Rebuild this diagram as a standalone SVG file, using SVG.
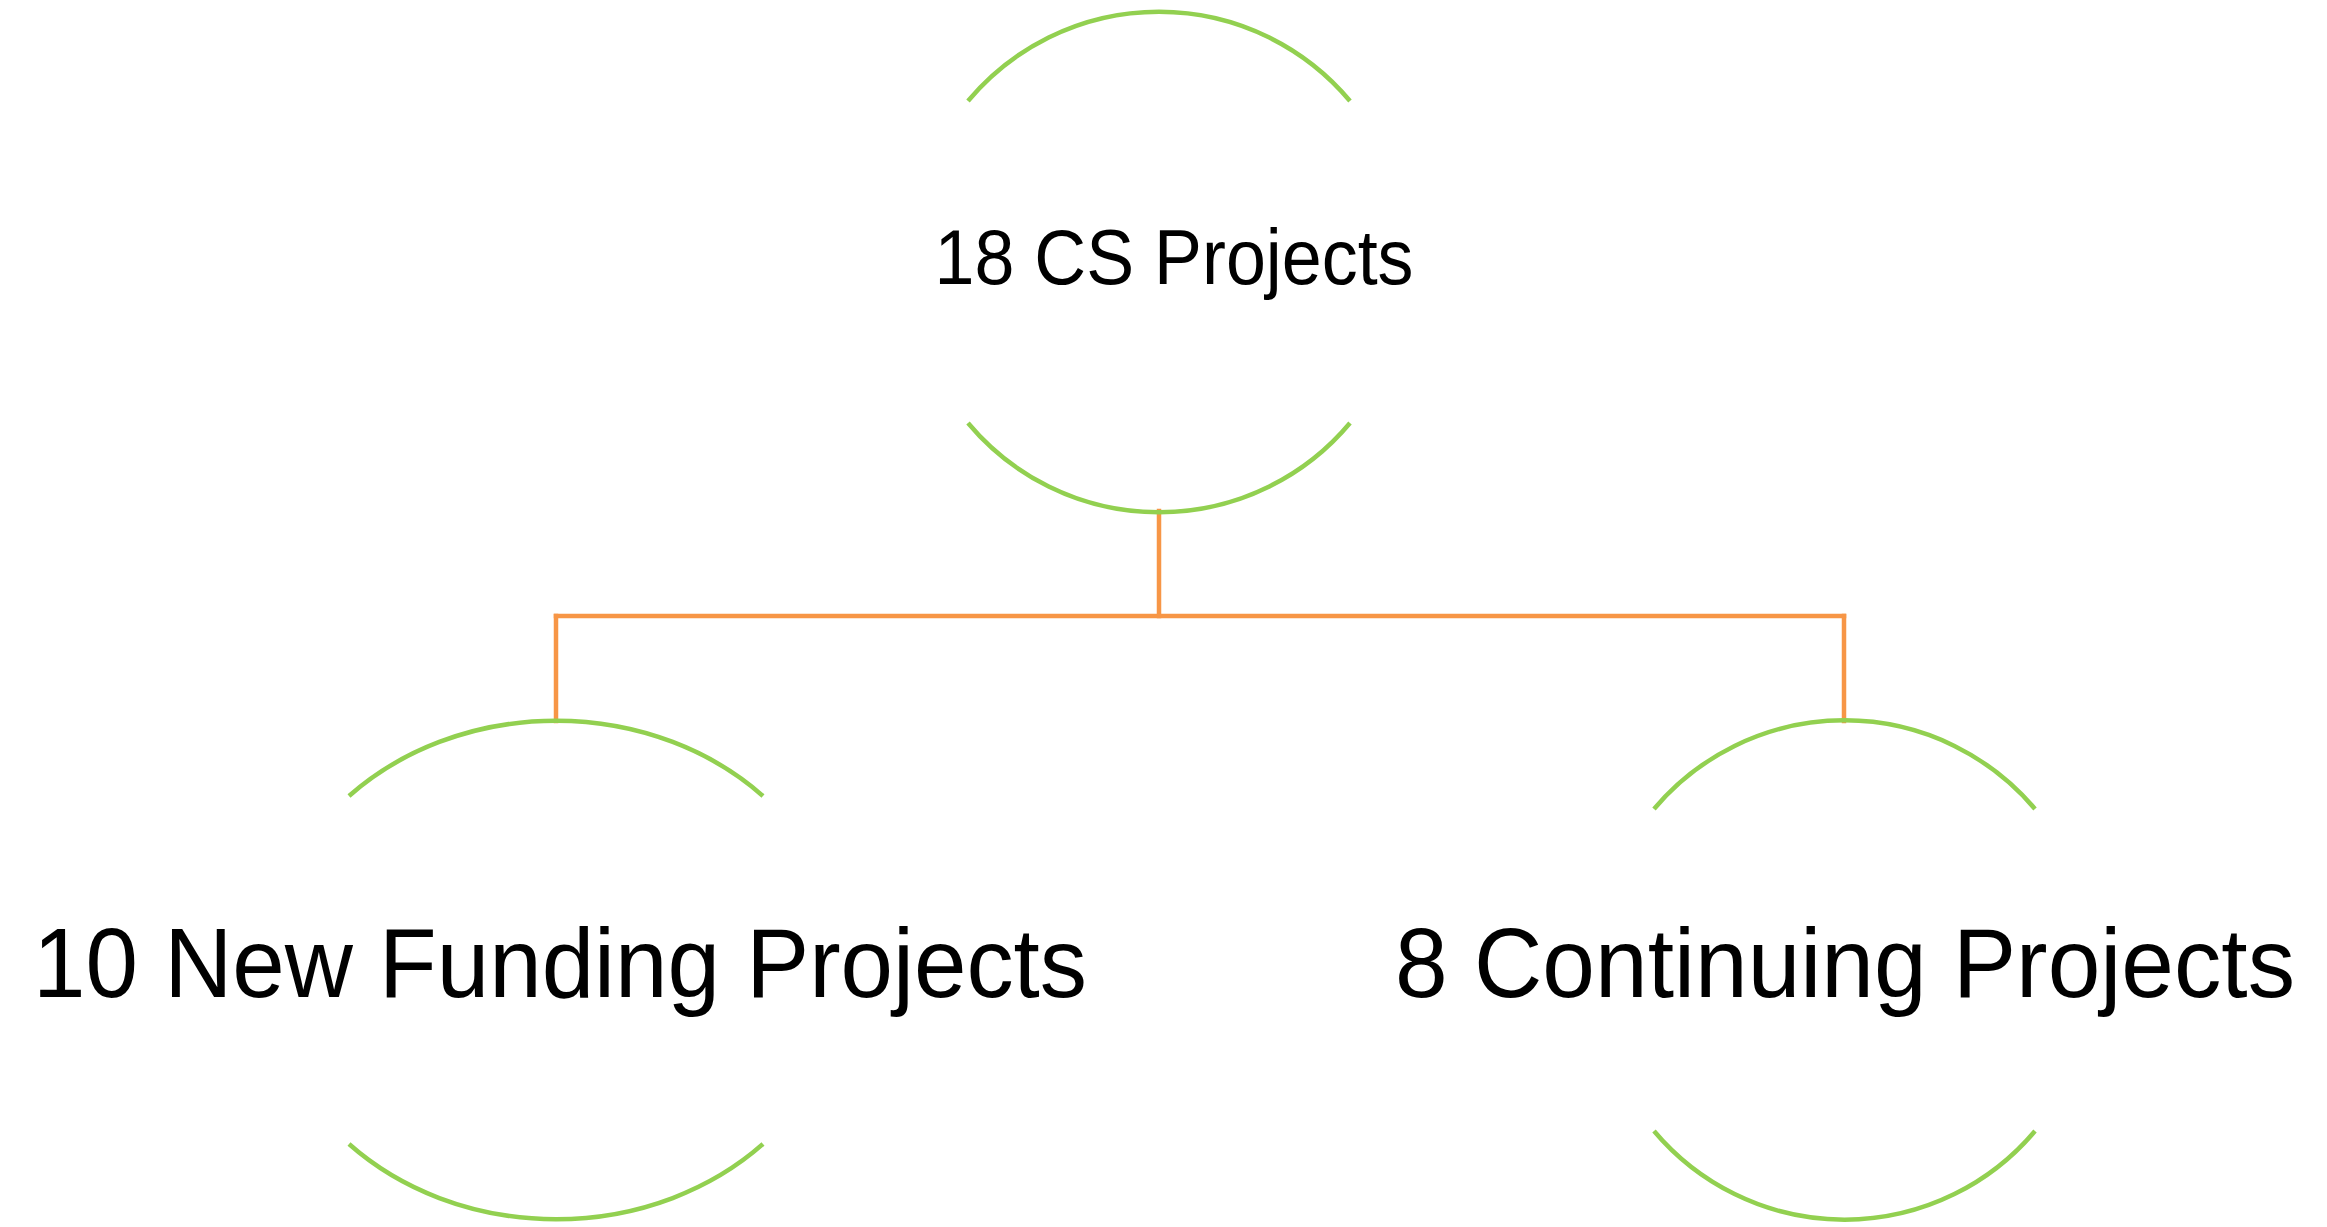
<svg xmlns="http://www.w3.org/2000/svg" width="2327" height="1227" viewBox="0 0 2327 1227">
  <style>
    .arc { fill: none; stroke: #92D050; stroke-width: 4.5; }
    .link { fill: none; stroke: #F79646; stroke-width: 4.5; stroke-linecap: square; }
    .label { font-family: "Liberation Sans", Arial, sans-serif; fill: #000000; text-anchor: middle; }
  </style>
  <rect width="2327" height="1227" fill="#FFFFFF"/>

  <!-- connectors: root down to the bar, bar across, bar down to children -->
  <g id="connectors">
    <path class="link" d="M1159,511 V616"/>
    <path class="link" d="M556,616 H1844"/>
    <path class="link" d="M556,616 V721"/>
    <path class="link" d="M1844,616 V721"/>
  </g>

  <!-- root: circle r=249 at (1159,262), drawn as top and bottom arcs -->
  <g id="node-root">
    <path class="arc" d="M968,101 A249,249 0 0 1 1350,101"/>
    <path class="arc" d="M968,423 A249,249 0 0 0 1350,423"/>
    <text class="label" x="1174" y="284" font-size="77" textLength="479" lengthAdjust="spacingAndGlyphs">18 CS Projects</text>
  </g>

  <!-- left child: ellipse rx=289 ry=249 at (556,970) -->
  <g id="node-new">
    <path class="arc" d="M349,796 A289,249 0 0 1 763,796"/>
    <path class="arc" d="M349,1144 A289,249 0 0 0 763,1144"/>
    <text class="label" x="560" y="997" font-size="99" textLength="1054" lengthAdjust="spacingAndGlyphs">10 New Funding Projects</text>
  </g>

  <!-- right child: circle r=249 at (1844,970) -->
  <g id="node-continuing">
    <path class="arc" d="M1654,809 A249,249 0 0 1 2035,809"/>
    <path class="arc" d="M1654,1131 A249,249 0 0 0 2035,1131"/>
    <text class="label" x="1845" y="997" font-size="99" textLength="900" lengthAdjust="spacingAndGlyphs">8 Continuing Projects</text>
  </g>
</svg>
